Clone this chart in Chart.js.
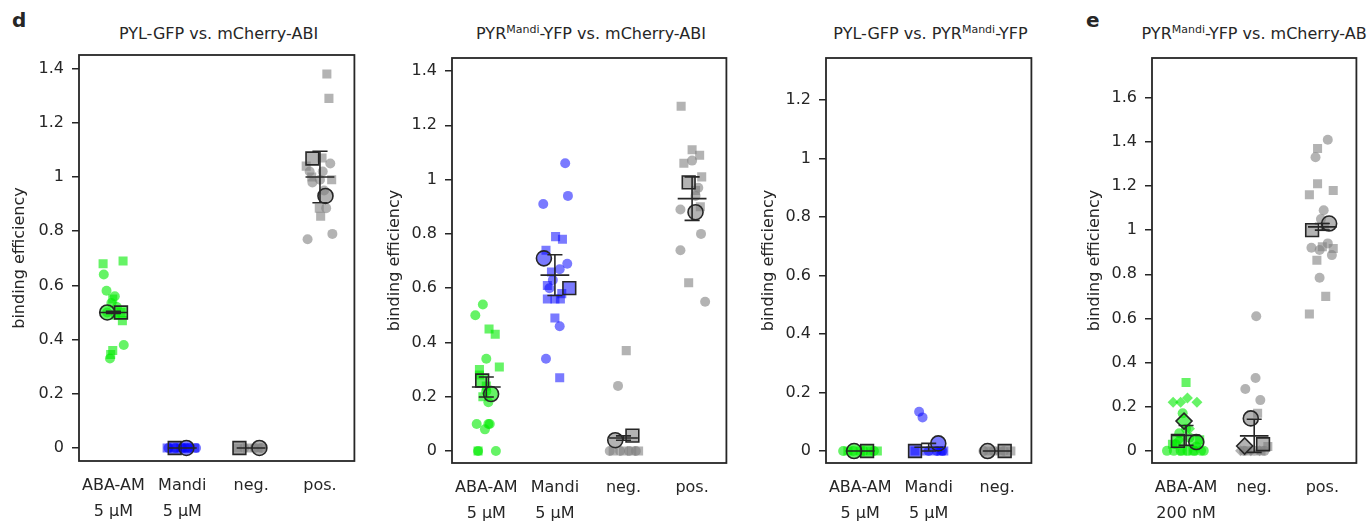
<!DOCTYPE html>
<html>
<head>
<meta charset="utf-8">
<script src="https://cdn.jsdelivr.net/npm/chart.js@4.4.0/dist/chart.umd.min.js"></script>
<style>
  body { margin: 0; width: 1367px; height: 525px; overflow: hidden; background: #fff; position: relative;
         font-family: 'DejaVu Sans', sans-serif; color: #262626; }
  canvas { position: absolute; top: 0; }
  .title { position: absolute; top: 24px; font-size: 16px; line-height: 20px; white-space: nowrap; transform: translateX(-50%); }
  .title sup { font-size: 11px; line-height: 0; vertical-align: 6px; }
  .letter { position: absolute; font-weight: bold; font-size: 20px; line-height: 20px; }
</style>
</head>
<body>
<div class="letter" style="left:12px; top:10px;">d</div>
<div class="letter" style="left:1086px; top:10px;">e</div>
<div class="title" style="left:218.5px;">PYL-GFP vs. mCherry-ABI</div>
<div class="title" style="left:591px;">PYR<sup>Mandi</sup>-YFP vs. mCherry-ABI</div>
<div class="title" style="left:930.5px;">PYL-GFP vs. PYR<sup>Mandi</sup>-YFP</div>
<div class="title" style="left:1256.5px;">PYR<sup>Mandi</sup>-YFP vs. mCherry-ABI</div>

<canvas id="d1" width="365" height="525" style="left:0px"></canvas>
<canvas id="d2" width="365" height="525" style="left:372px"></canvas>
<canvas id="d3" width="297" height="525" style="left:745px"></canvas>
<canvas id="e1" width="297" height="525" style="left:1070px"></canvas>

<script>
// ── data: rows are [group index, jitter, binding efficiency] ──────────

// d, panel 1: PYL-GFP vs. mCherry-ABI
const labelsD1 = [['ABA-AM', '5 µM'], ['Mandi', '5 µM'], 'neg.', 'pos.'];
const yTicksD1 = [0, 0.2, 0.4, 0.6, 0.8, 1.0, 1.2, 1.4];
const circlesD1 = [
  [0, -0.14, 0.64], [0, -0.10, 0.58], [0, 0.02, 0.56], [0, -0.03, 0.535], [0, 0.15, 0.38],
  [0, -0.05, 0.33], [0, -0.09, 0.50], [0, 0.05, 0.52],
  [1, -0.20, 0], [1, -0.10, 0], [1, 0, 0], [1, 0.10, 0], [1, 0.20, 0], [1, 0.05, 0],
  [2, -0.10, 0], [2, 0.05, 0], [2, 0.15, 0],
  [3, 0.15, 1.05], [3, -0.15, 1.02], [3, -0.11, 0.98], [3, 0.04, 1.02], [3, 0.06, 0.95],
  [3, 0.09, 0.885], [3, -0.18, 0.77], [3, 0.18, 0.79], [3, 0.0, 0.99]
];
const squaresD1 = [
  [0, -0.15, 0.68], [0, 0.14, 0.69], [0, -0.01, 0.55], [0, 0.13, 0.47], [0, -0.01, 0.36],
  [0, -0.04, 0.345], [0, 0.11, 0.50], [0, 0.03, 0.49],
  [1, -0.22, 0], [1, -0.12, 0], [1, -0.02, 0], [1, 0.08, 0], [1, 0.18, 0],
  [2, -0.20, 0], [2, -0.05, 0], [2, 0.10, 0],
  [3, 0.10, 1.38], [3, 0.13, 1.29], [3, 0.03, 1.07], [3, -0.20, 1.04], [3, 0.17, 0.99],
  [3, -0.01, 0.885], [3, 0.01, 0.855], [3, -0.12, 1.0]
];
const meanCirclesD1 = [[0, -0.09, 0.50], [1, 0.06, 0], [2, 0.12, 0], [3, 0.08, 0.93]];
const meanSquaresD1 = [[0, 0.11, 0.50], [1, -0.11, 0], [2, -0.17, 0], [3, -0.11, 1.068]];
const meansD1 = [0.50, 0, 0, 1.0];
const errsD1 = [0.004, 0, 0, 0.095];

// d, panel 2: PYR(Mandi)-YFP vs. mCherry-ABI
const labelsD2 = [['ABA-AM', '5 µM'], ['Mandi', '5 µM'], 'neg.', 'pos.'];
const yTicksD2 = [0, 0.2, 0.4, 0.6, 0.8, 1.0, 1.2, 1.4];
const circlesD2 = [
  [0, -0.16, 0.50], [0, -0.05, 0.54], [0, 0.0, 0.34], [0, -0.14, 0.10], [0, -0.02, 0.08],
  [0, 0.05, 0.10], [0, 0.03, 0.10], [0, -0.12, 0], [0, 0.14, 0], [0, 0.0, 0.22], [0, 0.03, 0.18],
  [1, 0.15, 1.06], [1, 0.19, 0.94], [1, -0.17, 0.91], [1, 0.18, 0.69], [1, 0.07, 0.67],
  [1, -0.08, 0.60], [1, 0.07, 0.46], [1, -0.13, 0.34], [1, -0.03, 0.63],
  [2, -0.08, 0.24], [2, -0.20, 0], [2, -0.05, 0], [2, 0.08, 0], [2, 0.18, 0],
  [3, 0.0, 1.07], [3, 0.09, 0.97], [3, -0.17, 0.89], [3, 0.13, 0.80], [3, -0.17, 0.74],
  [3, 0.19, 0.55], [3, 0.05, 0.94]
];
const squaresD2 = [
  [0, 0.04, 0.45], [0, 0.13, 0.43], [0, -0.10, 0.30], [0, 0.19, 0.31], [0, -0.10, 0.28],
  [0, -0.12, 0], [0, 0.0, 0.24], [0, -0.05, 0.20],
  [1, 0.01, 0.79], [1, 0.11, 0.78], [1, -0.13, 0.74], [1, -0.05, 0.66], [1, -0.11, 0.61],
  [1, 0.10, 0.58], [1, -0.11, 0.56], [1, 0.0, 0.56], [1, 0.08, 0.56], [1, 0.0, 0.49], [1, 0.07, 0.27],
  [2, 0.04, 0.37], [2, -0.15, 0], [2, 0.0, 0], [2, 0.12, 0], [2, 0.22, 0],
  [3, -0.16, 1.27], [3, 0.0, 1.11], [3, 0.11, 1.09], [3, -0.12, 1.06], [3, 0.14, 1.01],
  [3, 0.12, 0.90], [3, -0.05, 0.62], [3, 0.05, 0.96]
];
const meanCirclesD2 = [[0, 0.07, 0.21], [1, -0.16, 0.71], [2, -0.12, 0.04], [3, 0.05, 0.88]];
const meanSquaresD2 = [[0, -0.06, 0.26], [1, 0.21, 0.60], [2, 0.13, 0.057], [3, -0.05, 0.99]];
const meansD2 = [0.236, 0.648, 0.048, 0.93];
const errsD2 = [0.037, 0.075, 0.008, 0.08];

// d, panel 3: PYL-GFP vs. PYR(Mandi)-YFP
const labelsD3 = [['ABA-AM', '5 µM'], ['Mandi', '5 µM'], 'neg.'];
const yTicksD3 = [0, 0.2, 0.4, 0.6, 0.8, 1.0, 1.2];
const circlesD3 = [
  [0, -0.25, 0], [0, -0.10, 0], [0, 0.05, 0], [0, 0.20, 0],
  [1, -0.14, 0.134], [1, -0.09, 0.115], [1, 0.0, 0], [1, 0.12, 0], [1, 0.20, 0],
  [2, -0.20, 0], [2, -0.05, 0], [2, 0.10, 0]
];
const squaresD3 = [
  [0, -0.18, 0], [0, 0.0, 0], [0, 0.15, 0], [0, 0.25, 0],
  [1, -0.20, 0], [1, -0.05, 0], [1, 0.08, 0], [1, 0.18, 0], [1, 0.22, 0],
  [2, -0.12, 0], [2, 0.05, 0], [2, 0.20, 0]
];
const meanCirclesD3 = [[0, -0.09, 0], [1, 0.14, 0.026], [2, -0.14, 0]];
const meanSquaresD3 = [[0, 0.10, 0], [1, -0.20, 0], [2, 0.11, 0]];
const meansD3 = [0, 0.013, 0];
const errsD3 = [0, 0.013, 0];

// e: PYR(Mandi)-YFP vs. mCherry-ABI
const labelsE = [['ABA-AM', '200 nM'], 'neg.', 'pos.'];
const yTicksE = [0, 0.2, 0.4, 0.6, 0.8, 1.0, 1.2, 1.4, 1.6];
const circlesE = [
  [0, -0.05, 0.17], [0, 0.0, 0.10], [0, -0.10, 0.08], [0, 0.05, 0.06], [0, -0.15, 0.03],
  [0, 0.15, 0.02], [0, -0.28, 0], [0, -0.18, 0], [0, -0.08, 0], [0, 0.02, 0], [0, 0.12, 0],
  [0, 0.22, 0], [0, 0.26, 0],
  [1, 0.03, 0.61], [1, 0.02, 0.33], [1, -0.13, 0.28], [1, 0.09, 0.23], [1, -0.15, 0], [1, 0.0, 0], [1, 0.15, 0],
  [2, 0.08, 1.41], [2, -0.10, 1.33], [2, 0.02, 1.09], [2, -0.02, 1.05], [2, -0.16, 0.92],
  [2, -0.04, 0.91], [2, 0.08, 0.94], [2, 0.14, 0.887], [2, -0.04, 0.784]
];
const squaresE = [
  [0, 0.0, 0.31], [0, -0.20, 0.03], [0, -0.05, 0], [0, 0.10, 0], [0, 0.20, 0.05],
  [1, 0.05, 0.17], [1, -0.10, 0], [1, 0.10, 0], [1, 0.20, 0.02],
  [2, -0.07, 1.37], [2, -0.07, 1.21], [2, -0.19, 1.16], [2, 0.16, 1.18], [2, 0.0, 0.925],
  [2, 0.16, 0.917], [2, -0.08, 0.864], [2, 0.05, 0.70], [2, -0.19, 0.62], [2, 0.03, 1.015]
];
const diamondsE = [
  [0, -0.19, 0.22], [0, -0.08, 0.22], [0, 0.02, 0.24], [0, 0.16, 0.22], [0, -0.10, 0.05], [0, 0.05, 0.10],
  [1, -0.20, 0], [1, -0.05, 0], [1, 0.08, 0]
];
const meanCirclesE = [[0, 0.15, 0.04], [1, -0.05, 0.147], [2, 0.10, 1.03]];
const meanSquaresE = [[0, -0.12, 0.045], [1, 0.13, 0.03], [2, -0.15, 1.0]];
const meanDiamondsE = [[0, -0.03, 0.135], [1, -0.14, 0.022]];
const meansE = [0.07, 0.068, 1.015];
const errsE = [0.045, 0.075, 0.015];

// ── styling ──────────────────────────────────────────────────────────

const INK = '#262626';
const GREEN = 'rgba(0,235,0,0.6)';
const BLUE = 'rgba(0,0,255,0.52)';
const GRAY = 'rgba(128,128,128,0.6)';
const FONT = { family: "'DejaVu Sans', sans-serif", size: 16 };

const framePlugin = {
  id: 'frame',
  afterDraw(chart) {
    const { ctx, chartArea: a } = chart;
    ctx.save();
    ctx.strokeStyle = INK;
    ctx.lineWidth = 1.8;
    ctx.strokeRect(a.left, a.top, a.right - a.left, a.bottom - a.top);
    ctx.restore();
  },
};

function scatterSet(rows, colors, style, radius, isMean) {
  return {
    data: rows.map(([g, dx, v]) => ({ x: g + dx, y: v })),
    pointStyle: style,
    pointRadius: radius,
    backgroundColor: rows.map(([g]) => colors[g]),
    borderColor: isMean ? INK : 'rgba(0,0,0,0)',
    borderWidth: isMean ? 1.6 : 0,
    order: isMean ? 2 : 3,
  };
}

function errorBarSet(means, errs) {
  const pts = [];
  means.forEach((m, g) => {
    const lo = m - errs[g], hi = m + errs[g];
    pts.push(
      { x: g - 0.21, y: m }, { x: g + 0.21, y: m }, { x: g, y: null },
      { x: g, y: lo }, { x: g, y: hi }, { x: g, y: null },
      { x: g - 0.11, y: lo }, { x: g + 0.11, y: lo }, { x: g, y: null },
      { x: g - 0.11, y: hi }, { x: g + 0.11, y: hi }, { x: g, y: null }
    );
  });
  return {
    data: pts, showLine: true, spanGaps: false, pointRadius: 0,
    borderColor: INK, borderWidth: 1.6, order: 1,
  };
}

function makePanel(id, p) {
  const datasets = [
    scatterSet(p.circles, p.colors, 'circle', 5, false),
    scatterSet(p.squares, p.colors, 'rect', 6.4, false),
    scatterSet(p.meanCircles, p.colors, 'circle', 7.5, true),
    scatterSet(p.meanSquares, p.colors, 'rect', 9, true),
    errorBarSet(p.means, p.errs),
  ];
  if (p.diamonds) datasets.push(scatterSet(p.diamonds, p.colors, 'rectRot', 5.5, false));
  if (p.meanDiamonds) datasets.push(scatterSet(p.meanDiamonds, p.colors, 'rectRot', 8, true));

  new Chart(document.getElementById(id), {
    type: 'scatter',
    data: { datasets },
    plugins: [framePlugin],
    options: {
      responsive: false,
      animation: false,
      events: [],
      layout: { padding: { top: p.top, right: p.right, left: 0, bottom: 0 } },
      plugins: { legend: { display: false }, tooltip: { enabled: false } },
      scales: {
        x: {
          type: 'linear',
          min: -0.5,
          max: p.labels.length - 0.5,
          afterBuildTicks: s => { s.ticks = p.labels.map((_, i) => ({ value: i })); },
          afterFit: s => { s.height = p.xHeight; },
          ticks: {
            callback: (v, i) => p.labels[i],
            font: { ...FONT, lineHeight: 1.6 },
            color: INK,
            padding: 12,
            maxRotation: 0,
            autoSkip: false,
          },
          grid: { display: false, drawTicks: false },
          border: { display: false },
        },
        y: {
          min: p.yMin,
          max: p.yMax,
          afterBuildTicks: s => { s.ticks = p.yTicks.map(v => ({ value: v })); },
          afterFit: s => { s.width = p.yWidth; },
          ticks: {
            callback: v => String(+v.toFixed(1)),
            font: FONT,
            color: INK,
            padding: 8,
          },
          grid: { drawOnChartArea: false, drawTicks: true, tickLength: 7, color: INK, lineWidth: 1.5 },
          border: { display: false },
          title: {
            display: true,
            text: 'binding efficiency',
            font: FONT,
            color: INK,
            padding: { top: p.titlePad, bottom: 0 },
          },
        },
      },
    },
  });
}

makePanel('d1', {
  labels: labelsD1, yTicks: yTicksD1, circles: circlesD1, squares: squaresD1,
  meanCircles: meanCirclesD1, meanSquares: meanSquaresD1, means: meansD1, errs: errsD1,
  colors: [GREEN, BLUE, GRAY, GRAY],
  yMin: -0.048, yMax: 1.45, top: 55, right: 7, xHeight: 64, yWidth: 79, titlePad: 10.4,
});
makePanel('d2', {
  labels: labelsD2, yTicks: yTicksD2, circles: circlesD2, squares: squaresD2,
  meanCircles: meanCirclesD2, meanSquares: meanSquaresD2, means: meansD2, errs: errsD2,
  colors: [GREEN, BLUE, GRAY, GRAY],
  yMin: -0.044, yMax: 1.448, top: 58, right: 7, xHeight: 62, yWidth: 80, titlePad: 13.4,
});
makePanel('d3', {
  labels: labelsD3, yTicks: yTicksD3, circles: circlesD3, squares: squaresD3,
  meanCircles: meanCirclesD3, meanSquares: meanSquaresD3, means: meansD3, errs: errsD3,
  colors: [GREEN, BLUE, GRAY],
  yMin: -0.041, yMax: 1.344, top: 58, right: 7, xHeight: 62, yWidth: 81, titlePad: 14,
});
makePanel('e1', {
  labels: labelsE, yTicks: yTicksE, circles: circlesE, squares: squaresE, diamonds: diamondsE,
  meanCircles: meanCirclesE, meanSquares: meanSquaresE, meanDiamonds: meanDiamondsE,
  means: meansE, errs: errsE,
  colors: [GREEN, GRAY, GRAY],
  yMin: -0.055, yMax: 1.78, top: 58, right: 6, xHeight: 62, yWidth: 82, titlePad: 15,
});
</script>
</body>
</html>
